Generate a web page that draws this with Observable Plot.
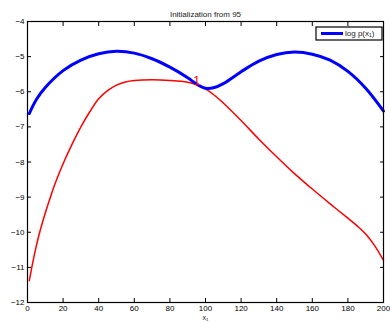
<!DOCTYPE html>
<html><head><meta charset="utf-8">
<script src="https://cdn.jsdelivr.net/npm/d3@7"></script>
<script src="https://cdn.jsdelivr.net/npm/@observablehq/plot@0.6"></script>
<style>body{margin:0;background:#fff}svg{font-family:"Liberation Sans",Arial,sans-serif}</style>
</head><body><div id="chart"></div>
<script>
const blueX = [1,5,10,20,30,40,50,60,70,80,90,95,100,105,110,120,130,140,150,160,170,180,190,200];
const blueY = [-6.62,-6.22,-5.88,-5.4,-5.1,-4.92,-4.85,-4.9,-5.06,-5.3,-5.6,-5.78,-5.9,-5.88,-5.77,-5.43,-5.13,-4.94,-4.87,-4.93,-5.1,-5.42,-5.9,-6.55];
const redX = [1,3,5,7,10,13,16,20,25,30,35,40,45,50,55,60,70,80,90,95,100,105,110,120,130,140,150,160,170,180,185,190,195,200];
const redY = [-11.38,-10.85,-10.38,-9.97,-9.45,-8.98,-8.55,-8.05,-7.5,-7.0,-6.57,-6.2,-5.97,-5.81,-5.72,-5.68,-5.66,-5.68,-5.73,-5.8,-5.92,-6.1,-6.32,-6.82,-7.35,-7.85,-8.33,-8.77,-9.19,-9.6,-9.81,-10.05,-10.38,-10.8];
const xTicks = d3.range(0, 201, 20);
const yTicks = d3.range(-12, -3, 1);
const titleText = "Initialization from 95";
const xLabel = "x\u2081";
const legendLabel = "log p(x\u2081)";
const markX = [95], markY = [-5.8], markText = ["1"];

const blue = blueX.map((x,i)=>({x, y: blueY[i]}));
const red = redX.map((x,i)=>({x, y: redY[i]}));

const W = 390, H = 322;
const plot = Plot.plot({
  width: W, height: H,
  marginLeft: 27, marginRight: 7, marginTop: 21, marginBottom: 20,
  style: {fontSize: "8px", fontFamily: "Liberation Sans, Arial, sans-serif", background: "white"},
  x: {domain: [0, 200], ticks: xTicks},
  y: {domain: [-12, -4], ticks: yTicks},
  marks: [
    Plot.axisX({anchor: "bottom", ticks: xTicks, tickSize: -4, tickPadding: 7, label: null, tickFormat: d => String(d)}),
    Plot.axisX({anchor: "top", ticks: xTicks, tickSize: -4, text: null, label: null}),
    Plot.axisY({anchor: "left", ticks: yTicks, tickSize: -4, tickPadding: 7, label: null, tickFormat: d => d < 0 ? "\u2212" + Math.abs(d) : String(d)}),
    Plot.axisY({anchor: "right", ticks: yTicks, tickSize: -4, text: null, label: null}),
    Plot.line(red, {x: "x", y: "y", stroke: "#ff0000", strokeWidth: 1.5, curve: "catmull-rom"}),
    Plot.line(blue, {x: "x", y: "y", stroke: "#0000ff", strokeWidth: 3, curve: "catmull-rom"}),
    Plot.text(markText, {x: (d,i)=>markX[i], y: (d,i)=>markY[i], text: d=>d, fill: "#ff0000", fontSize: 13, lineAnchor: "bottom", dy: 0}),
    Plot.text([titleText], {frameAnchor: "top", dy: -10, text: d=>d, fontSize: 8, fill: "#222"}),
    Plot.text([xLabel], {frameAnchor: "bottom", dy: 17, text: d=>d, fontSize: 7, fill: "#222"}),
    Plot.frame({stroke: "black", strokeWidth: 1.2})
  ]
});
document.getElementById("chart").appendChild(plot);

const svg = d3.select(plot);
const g = svg.append("g").attr("text-anchor", "start");
const bx = 316, by = 27, bw = 66, bh = 13;
g.append("rect").attr("x", bx).attr("y", by).attr("width", bw).attr("height", bh).attr("fill", "white").attr("stroke", "black").attr("stroke-width", 1.2);
g.append("line").attr("x1", bx + 5).attr("x2", bx + 27).attr("y1", by + 6.5).attr("y2", by + 6.5).attr("stroke", "#0000ff").attr("stroke-width", 3);
g.append("text").attr("x", bx + 29).attr("y", by + 9).attr("font-size", 8).attr("fill", "#222").attr("text-anchor", "start").text(legendLabel);
</script></body></html>
